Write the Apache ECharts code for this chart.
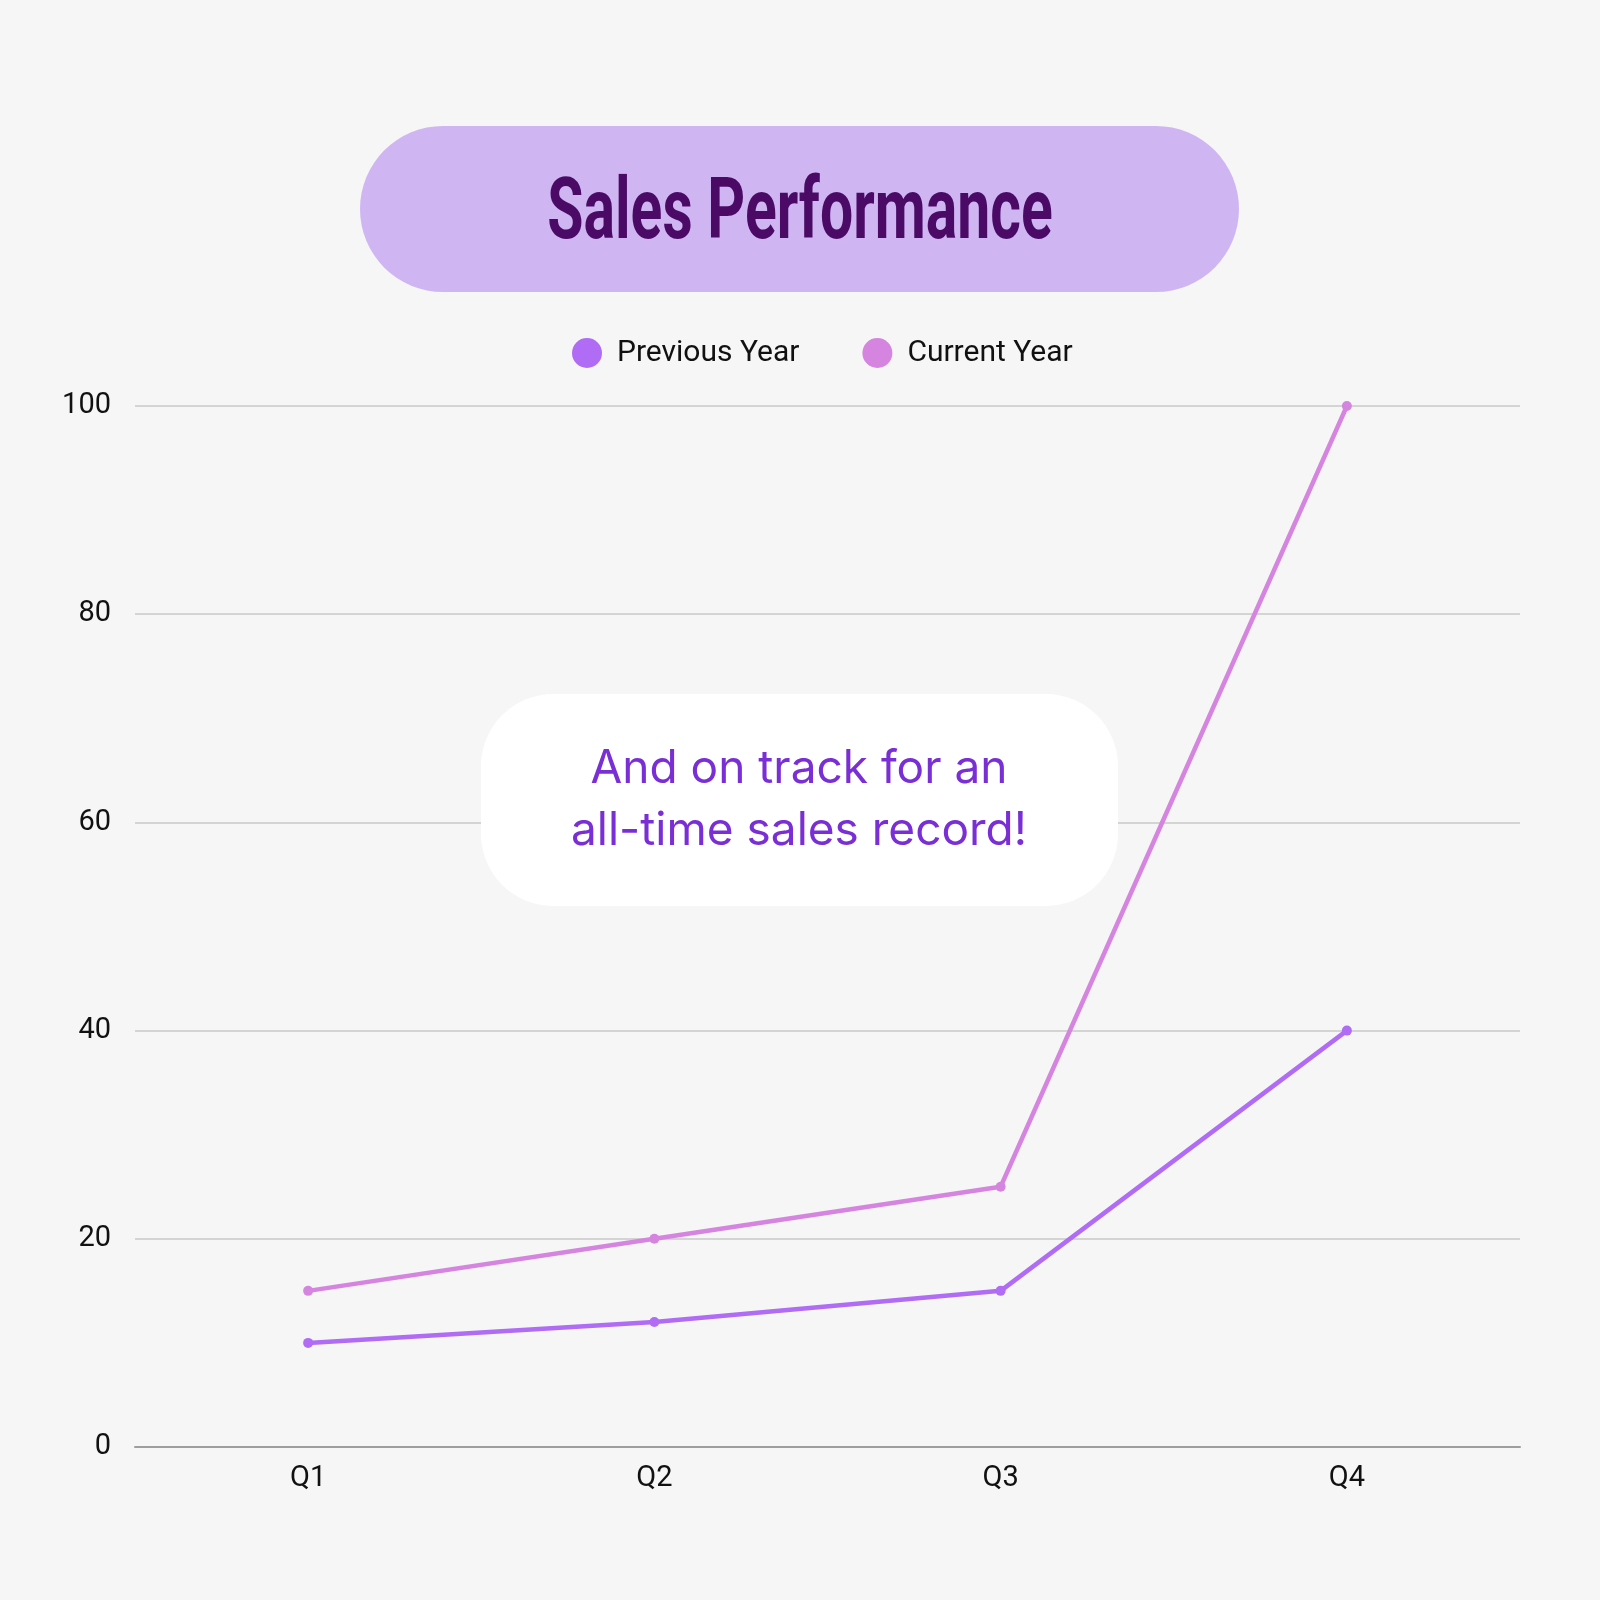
<!DOCTYPE html>
<html>
<head>
<meta charset="utf-8">
<script src="https://cdn.jsdelivr.net/npm/echarts@6/dist/echarts.min.js"></script>
<style>
  html, body { margin: 0; padding: 0; background: #f6f6f6; }
  #main { width: 1600px; height: 1600px; }
</style>
</head>
<body>
<div id="main"></div>
<script>
var quarters = ['Q1', 'Q2', 'Q3', 'Q4'];
var previousYear = [10, 12, 15, 40];
var currentYear = [15, 20, 25, 100];
var seriesNames = ['Previous Year', 'Current Year'];

var chart = echarts.init(document.getElementById('main'));

var option = {
    backgroundColor: '#f6f6f6',
    textStyle: { fontFamily: 'Roboto' },
    legend: {
        top: 333,
        left: 567,
        icon: 'circle',
        itemWidth: 30,
        itemHeight: 30,
        itemGap: 63,
        textStyle: { fontSize: 30, color: '#111', fontFamily: 'Roboto', padding: [0, 0, 0, 10] },
        data: seriesNames
    },
    grid: {
        left: 135,
        right: 80,
        top: 406,
        bottom: 153,
        containLabel: false
    },
    xAxis: {
        type: 'category',
        data: quarters,
        boundaryGap: true,
        axisTick: { show: false },
        axisLine: { lineStyle: { color: '#9e9e9e', width: 2 } },
        axisLabel: { fontSize: 29, color: '#111', margin: 17 }
    },
    yAxis: {
        type: 'value',
        min: 0,
        max: 100,
        interval: 20,
        axisLine: { show: false },
        axisTick: { show: false },
        axisLabel: { fontSize: 29, color: '#111', margin: 24 },
        splitLine: { lineStyle: { color: '#c8c8c8', width: 1.5 } }
    },
    graphic: [
        {
            type: 'rect',
            shape: { x: 360, y: 126, width: 879, height: 166, r: 83 },
            style: { fill: '#cfb6f3' },
            z: 1
        },
        {
            type: 'text',
            x: 800,
            y: 216,
            scaleX: 0.685,
            style: {
                text: 'Sales Performance',
                font: 'bold 86px Roboto',
                fill: '#4b0a66',
                align: 'center',
                verticalAlign: 'middle'
            },
            z: 2
        },
        {
            type: 'rect',
            shape: { x: 481, y: 694, width: 637, height: 212, r: 72 },
            style: { fill: '#ffffff' },
            z: 1
        },
        {
            type: 'text',
            x: 799,
            y: 800,
            style: {
                text: 'And on track for an\nall-time sales record!',
                font: '46px Inter',
                lineHeight: 62,
                fill: '#7a2fd6',
                align: 'center',
                verticalAlign: 'middle'
            },
            z: 2
        }
    ],
    series: [
        {
            name: seriesNames[0],
            type: 'line',
            data: previousYear,
            color: '#b06cf5',
            symbol: 'circle',
            symbolSize: 10,
            lineStyle: { width: 4.5 },
            z: 3
        },
        {
            name: seriesNames[1],
            type: 'line',
            data: currentYear,
            color: '#d585e0',
            symbol: 'circle',
            symbolSize: 10,
            lineStyle: { width: 4.5 },
            z: 3
        }
    ]
};

chart.setOption(option);
</script>
</body>
</html>
